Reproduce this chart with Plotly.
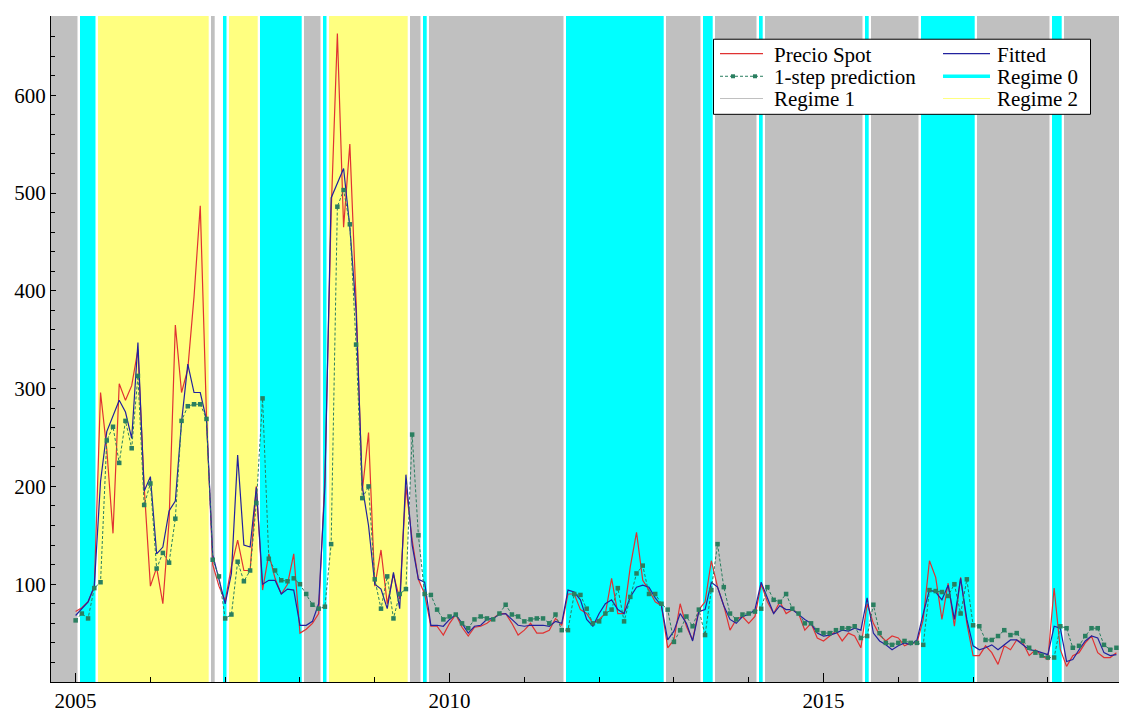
import numpy as np
import plotly.graph_objects as go

# ---------------- data ----------------
start_year = 2005  # first monthly observation: January 2005

spot = [72, 76, 82, 97, 296, 238, 152, 305, 288, 303, 340, 200, 98, 117, 80, 165,
        365, 296, 320, 394, 487, 272, 120, 98, 83, 118, 145, 114, 114, 200, 94, 131,
        106, 90, 100, 131, 50, 54, 60, 70, 210, 480, 663, 465, 550, 390, 195, 255,
        98, 135, 80, 110, 85, 200, 145, 105, 90, 57, 57, 48, 60, 69, 56, 47,
        56, 57, 60, 65, 70, 70, 60, 48, 53, 60, 50, 50, 53, 65, 58, 90,
        90, 74, 70, 60, 64, 70, 106, 70, 70, 118, 153, 104, 94, 82, 78, 35,
        43, 80, 57, 43, 74, 82, 124, 97, 78, 53, 64, 67, 60, 67, 100, 82,
        70, 82, 70, 74, 70, 53, 60, 45, 42, 47, 52, 42, 50, 47, 35, 80,
        60, 48, 42, 47, 45, 37, 40, 40, 64, 124, 107, 64, 101, 57, 107, 60,
        27, 27, 37, 30, 18, 37, 33, 43, 40, 27, 33, 27, 23, 96, 33, 16,
        27, 30, 40, 47, 30, 25, 25, 30]

fitted = [68, 75, 82, 98, 205, 256, 273, 288, 276, 249, 347, 195, 210, 131, 138, 175,
          185, 266, 325, 296, 296, 268, 130, 104, 80, 111, 232, 140, 138, 199, 100, 104,
          104, 90, 95, 94, 58, 58, 62, 80, 200, 495, 510, 525, 465, 380, 200, 160,
          100, 95, 75, 112, 75, 212, 140, 105, 102, 58, 58, 57, 64, 69, 60, 50,
          57, 58, 64, 65, 69, 70, 64, 58, 57, 58, 58, 58, 57, 62, 60, 94,
          92, 84, 64, 57, 70, 80, 84, 74, 70, 87, 97, 99, 97, 86, 78, 43,
          52, 70, 60, 42, 72, 74, 102, 97, 78, 64, 60, 67, 69, 74, 102, 86,
          70, 78, 74, 74, 69, 64, 60, 50, 47, 48, 50, 53, 52, 55, 53, 86,
          50, 42, 38, 33, 37, 40, 38, 43, 70, 94, 92, 84, 99, 64, 106, 64,
          37, 33, 35, 38, 33, 38, 43, 43, 38, 33, 32, 30, 28, 57, 55, 21,
          23, 33, 42, 47, 45, 30, 27, 28]

prediction = [63, 70, 65, 96, 102, 247, 261, 224, 267, 239, 313, 181, 203, 116, 132, 122,
              167, 267, 282, 284, 284, 269, 125, 108, 65, 69, 123, 103, 114, 183, 290, 126,
              114, 104, 103, 106, 100, 90, 79, 75, 77, 141, 486, 503, 468, 345, 188, 200,
              105, 75, 108, 65, 90, 95, 253, 150, 90, 89, 74, 64, 67, 69, 60, 55,
              64, 67, 65, 64, 70, 79, 69, 67, 62, 64, 65, 65, 60, 69, 53, 53,
              90, 89, 75, 60, 62, 70, 74, 96, 62, 87, 111, 119, 90, 90, 80, 74,
              41, 53, 67, 57, 74, 48, 94, 141, 97, 70, 64, 69, 70, 72, 75, 97,
              84, 82, 90, 75, 70, 60, 60, 53, 50, 50, 53, 55, 55, 57, 45, 47,
              79, 50, 40, 38, 40, 42, 40, 40, 38, 94, 93, 92, 88, 100, 70, 105,
              58, 57, 43, 43, 47, 53, 48, 50, 42, 35, 30, 27, 25, 25, 57, 55,
              35, 37, 47, 55, 55, 38, 33, 35]

# regime runs: (regime, number of months); None = no regime shaded
regime_runs = [(1, 1), (0, 3), (2, 18), (1, 1), (None, 1), (0, 1), (2, 5), (0, 7),
               (1, 3), (0, 1), (2, 13), (1, 2), (0, 1), (1, 22), (0, 16), (1, 6),
               (0, 2), (1, 7), (0, 1), (1, 16), (0, 1), (1, 8), (0, 9), (1, 12),
               (0, 2), (1, 9)]

regime_names = {0: "Regime 0", 1: "Regime 1", 2: "Regime 2"}
regime_colors = {0: "#00FFFF", 1: "#C0C0C0", 2: "#FFFF80"}

y_tick_vals = [100, 200, 300, 400, 500, 600]
x_tick_vals = [2005, 2010, 2015]
x_tick_text = ["2005", "2010", "2015"]

series_names = ["Precio Spot", "Fitted", "1-step prediction"]
series_colors = ["#E03232", "#22229E", "#2A7F60"]

# ---------------- figure ----------------
W, H = 1121, 715
ML, MR, MT, MB = 51, 2, 16, 25
X_RANGE = [2004.671, 2018.951]
Y_RANGE = [0, 681]
FONT = "Liberation Serif, Times New Roman, serif"

n = len(spot)
t = start_year + np.arange(n) / 12.0

# regime segments in time units
segs = []
m = 0
for reg, cnt in regime_runs:
    x0 = start_year + (m - 0.5) / 12.0
    x1 = start_year + (m + cnt - 0.5) / 12.0
    if m == 0:
        x0 = X_RANGE[0] - 0.05
    if m + cnt == n:
        x1 = X_RANGE[1] + 0.05
    if reg is not None:
        segs.append((reg, x0, x1))
    m += cnt

fig = go.Figure()
for reg in (1, 0, 2):
    s = [(a, b) for r, a, b in segs if r == reg]
    fig.add_trace(go.Bar(
        x=[(a + b) / 2 for a, b in s],
        y=[Y_RANGE[1] + 60] * len(s),
        base=-20,
        width=[b - a for a, b in s],
        marker=dict(color=regime_colors[reg], line=dict(color="white", width=2.3)),
        name=regime_names[reg], showlegend=False, hoverinfo="skip"))

fig.add_trace(go.Scatter(x=t, y=spot, mode="lines", name=series_names[0],
                         line=dict(color=series_colors[0], width=1.2), showlegend=False))
fig.add_trace(go.Scatter(x=t, y=fitted, mode="lines", name=series_names[1],
                         line=dict(color=series_colors[1], width=1.2), showlegend=False))
fig.add_trace(go.Scatter(x=t, y=prediction, mode="lines+markers", name=series_names[2],
                         line=dict(color=series_colors[2], width=1, dash="3px,2px"),
                         marker=dict(symbol="square", size=4.5, color=series_colors[2]),
                         showlegend=False))

fig.update_layout(
    width=W, height=H,
    margin=dict(l=ML, r=MR, t=MT, b=MB, pad=0),
    paper_bgcolor="white", plot_bgcolor="white",
    barmode="overlay", bargap=0,
    font=dict(family=FONT, size=21, color="black"),
    showlegend=False,
    xaxis=dict(range=X_RANGE, showgrid=False, zeroline=False,
               showline=True, linecolor="black", linewidth=1.3,
               ticks="inside", tickcolor="black", ticklen=9, tickwidth=1,
               tickvals=x_tick_vals, ticktext=x_tick_text,
               minor=dict(dtick=1, tick0=2005, ticks="inside", ticklen=5,
                          tickcolor="black", showgrid=False),
               tickfont=dict(family=FONT, size=21)),
    yaxis=dict(range=Y_RANGE, showgrid=False, zeroline=False,
               showline=True, linecolor="black", linewidth=1,
               ticks="inside", tickcolor="black", ticklen=5, tickwidth=1,
               tickvals=y_tick_vals,
               minor=dict(dtick=20, tick0=0, ticks="inside", ticklen=4,
                          tickcolor="black", showgrid=False),
               tickfont=dict(family=FONT, size=21)),
)

# ---------------- legend (drawn manually, two columns) ----------------
PW = W - ML - MR
PH = H - MT - MB


def px(xp):
    return (xp - ML) / PW


def py(yp):
    return (H - MB - yp) / PH


shapes = [dict(type="rect", xref="paper", yref="paper",
               x0=px(713.5), x1=px(1090.5), y0=py(115.5), y1=py(39.5),
               fillcolor="white", line=dict(color="black", width=1), layer="above")]

legend_items = [
    # (label, column, row, kind)
    (series_names[0], 0, 0, ("line", series_colors[0], 1.2)),
    (series_names[1], 1, 0, ("line", series_colors[1], 1.2)),
    (series_names[2], 0, 1, ("pred", series_colors[2], 1)),
    (regime_names[0], 1, 1, ("line", regime_colors[0], 3.5)),
    (regime_names[1], 0, 2, ("line", regime_colors[1], 1.2)),
    (regime_names[2], 1, 2, ("line", regime_colors[2], 1.2)),
]
col_line = [(720, 763), (943, 990)]
col_text = [772, 995]
row_y = [54, 77, 99.5]

annotations = []
for label, c, r, (kind, color, lw) in legend_items:
    x0, x1 = col_line[c]
    yy = row_y[r]
    shapes.append(dict(type="line", xref="paper", yref="paper",
                       x0=px(x0), x1=px(x1), y0=py(yy), y1=py(yy),
                       line=dict(color=color, width=lw,
                                 dash="3px,2px" if kind == "pred" else "solid"),
                       layer="above"))
    if kind == "pred":
        for mx in (733, 755):
            shapes.append(dict(type="rect", xref="paper", yref="paper",
                               x0=px(mx - 2), x1=px(mx + 2), y0=py(yy + 2), y1=py(yy - 2),
                               fillcolor=color, line=dict(width=0), layer="above"))
    annotations.append(dict(text=label, xref="paper", yref="paper",
                            x=px(col_text[c]), y=py(yy + 1), xanchor="left", yanchor="middle",
                            showarrow=False, font=dict(family=FONT, size=21, color="black")))

fig.update_layout(shapes=shapes, annotations=annotations)

fig.write_html("out.html")
